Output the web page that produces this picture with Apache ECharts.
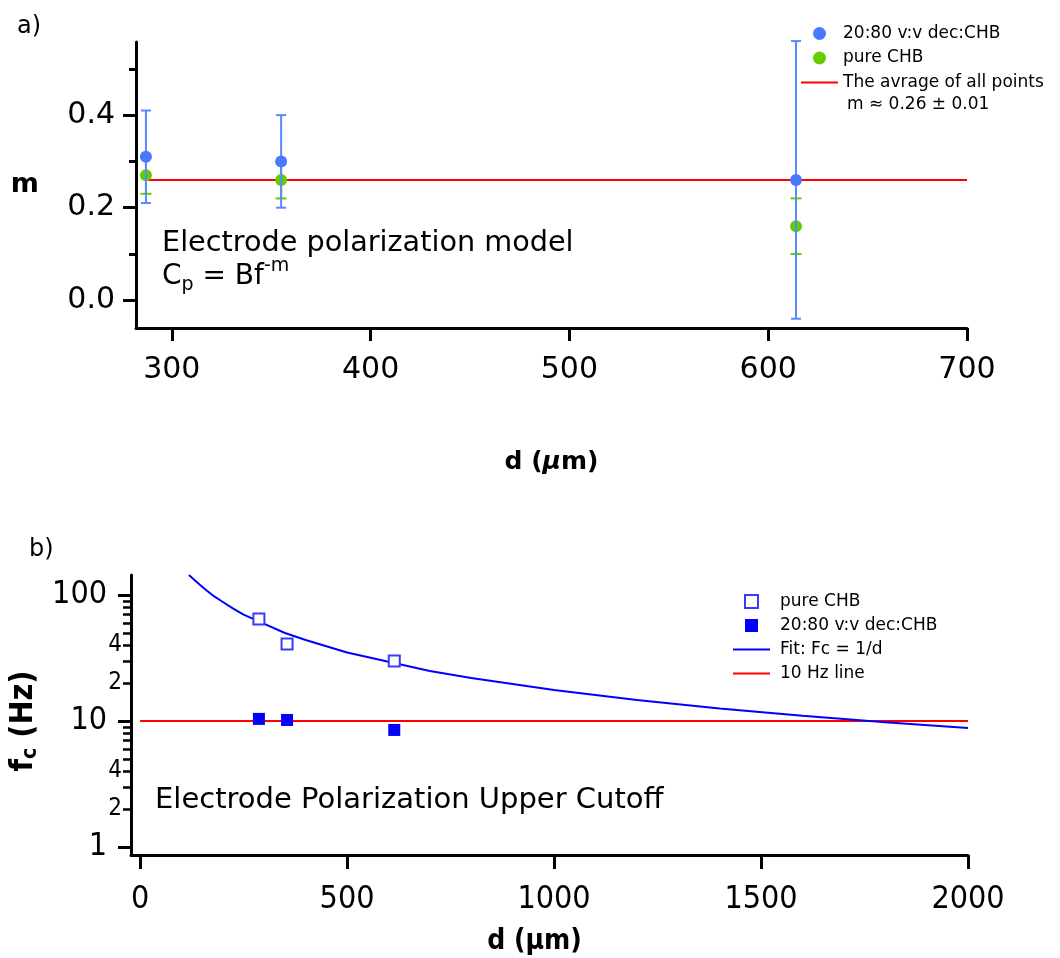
<!DOCTYPE html>
<html>
<head>
<meta charset="utf-8">
<script src="https://cdn.jsdelivr.net/npm/echarts@6/dist/echarts.min.js"></script>
<style>
  html, body { margin: 0; padding: 0; background: #fff; }
  #chart { width: 1060px; height: 958px; }
</style>
</head>
<body>
<div id="chart"></div>
<script>
// ---- panel a) exponent m vs thickness d ----
const dTicksTop = [300, 400, 500, 600, 700];
const mTickValues = [0, 0.2, 0.4];
const mMinorTicks = [0.1, 0.3, 0.5];
const dPoints = [287, 355, 614];
const mDec = [0.31, 0.30, 0.26];
const mDecErr = [0.10, 0.10, 0.30];
const mPure = [0.27, 0.26, 0.16];
const mPureErr = [0.04, 0.04, 0.06];
const avgLineD = [287, 700];
const avgLineM = [0.26, 0.26];

// ---- panel b) upper cutoff frequency vs d ----
const dTicksBottom = [0, 500, 1000, 1500, 2000];
const fcPure = [64.5, 40.8, 30];
const fcDec = [10.4, 10.2, 8.5];
const fitD = [118, 130, 145, 160, 180, 200, 225, 250, 300, 350, 400, 500, 600, 700, 800, 1000, 1200, 1400, 1600, 1800, 2000];
const fitFc = [144, 133, 120, 109, 97, 88, 78, 70, 59, 50, 44, 35, 29.5, 25, 22, 17.6, 14.7, 12.6, 11, 9.8, 8.8];
const tenHzD = [0, 2000];
const tenHzFc = [10, 10];
const fcMajorTicks = [1, 10, 100];
const fcMinorTicks = [2, 3, 4, 5, 6, 7, 8, 9, 20, 30, 40, 50, 60, 70, 80, 90];
const fcLabelValues = [1, 2, 4, 10, 20, 40, 100];
const fcLabelText = ['1', '2', '4', '10', '2', '4', '100'];

const FONT = 'DejaVu Sans';
const FONT_C = '"DejaVu Sans Condensed", "Liberation Sans Narrow", sans-serif';
const BLUE_DOT = '#4a78ff';
const BLUE_BAR = '#5a88ff';
const GREEN = '#66cc00';
const RED = '#ff0000';
const PURE_BLUE = '#0000ff';

const lg = v => Math.log10(v);
const zip = (xs, ys) => xs.map((x, i) => [x, ys[i]]);
const zipLog = (xs, ys) => xs.map((x, i) => [x, lg(ys[i])]);

function errorBars(name, ys, errs, color, cap, z) {
  return {
    type: 'custom',
    name: name,
    xAxisIndex: 0,
    yAxisIndex: 0,
    z: z,
    silent: true,
    data: dPoints.map((d, i) => [d, ys[i] - errs[i], ys[i] + errs[i]]),
    encode: { x: 0, y: [1, 2] },
    renderItem: function (params, api) {
      const lo = api.coord([api.value(0), api.value(1)]);
      const hi = api.coord([api.value(0), api.value(2)]);
      const style = { stroke: color, lineWidth: 2 };
      return {
        type: 'group',
        children: [
          { type: 'line', shape: { x1: lo[0], y1: lo[1], x2: hi[0], y2: hi[1] }, style: style },
          { type: 'line', shape: { x1: lo[0] - cap, y1: lo[1], x2: lo[0] + cap, y2: lo[1] }, style: style },
          { type: 'line', shape: { x1: hi[0] - cap, y1: hi[1], x2: hi[0] + cap, y2: hi[1] }, style: style }
        ]
      };
    }
  };
}

const blackLine = { color: '#000', width: 3 };
const squareIcon = 'path://M0 0H10V10H0Z';
const lineIcon = 'path://M0 0H37V2H0Z';

const chart = echarts.init(document.getElementById('chart'));

const option = {
  animation: false,
  backgroundColor: '#fff',
  grid: [
    { left: 136, top: 42, width: 831, height: 286, containLabel: false, outerBoundsMode: 'none' },
    { left: 131, top: 575, width: 837, height: 280, containLabel: false, outerBoundsMode: 'none' }
  ],
  xAxis: [
    {
      type: 'value', gridIndex: 0, min: 282, max: 700,
      axisLine: { onZero: false, lineStyle: blackLine },
      axisTick: { show: true, customValues: dTicksTop, length: 13, lineStyle: { color: '#000', width: 3 } },
      axisLabel: { customValues: dTicksTop, fontSize: 30, fontFamily: FONT, color: '#000', margin: 27, formatter: v => String(v) },
      splitLine: { show: false },
      name: '{b|d (}{i|μ}{b|m)}', nameLocation: 'middle', nameGap: 122,
      nameTextStyle: {
        rich: {
          b: { fontSize: 25, fontWeight: 'bold', fontFamily: FONT, color: '#000' },
          i: { fontSize: 25, fontWeight: 'bold', fontStyle: 'italic', fontFamily: FONT, color: '#000' }
        }
      }
    },
    {
      type: 'value', gridIndex: 1, min: -22, max: 2000,
      axisLine: { onZero: false, lineStyle: blackLine },
      axisTick: { show: true, customValues: dTicksBottom, length: 14, lineStyle: { color: '#000', width: 3 } },
      axisLabel: { customValues: dTicksBottom, fontSize: 32, fontFamily: FONT_C, color: '#000', margin: 29, formatter: v => String(v) },
      splitLine: { show: false },
      name: 'd (μm)', nameLocation: 'middle', nameGap: 73,
      nameTextStyle: { fontSize: 28, fontWeight: 'bold', fontFamily: FONT_C, color: '#000', padding: [0, 30, 0, 0] }
    }
  ],
  yAxis: [
    {
      type: 'value', gridIndex: 0, position: 'left', min: -0.06, max: 0.558,
      axisLine: { show: true, onZero: false, lineStyle: blackLine },
      axisTick: { show: true, customValues: mTickValues, length: 13, lineStyle: { color: '#000', width: 3 } },
      axisLabel: {
        customValues: mTickValues, fontSize: 30, fontFamily: FONT, color: '#000', margin: 21,
        formatter: v => v.toFixed(1)
      },
      splitLine: { show: false },
      name: 'm', nameLocation: 'middle', nameRotate: 0, nameGap: 97,
      nameTextStyle: { fontSize: 27, fontWeight: 'bold', fontFamily: FONT, color: '#000' }
    },
    {
      type: 'value', gridIndex: 0, position: 'left', offset: 0, min: -0.06, max: 0.558,
      axisLine: { show: false, onZero: false },
      axisTick: { show: true, customValues: mMinorTicks, length: 7, lineStyle: { color: '#000', width: 3 } },
      axisLabel: { show: false },
      splitLine: { show: false }
    },
    {
      type: 'value', gridIndex: 1, position: 'left', min: -0.063, max: 2.159,
      axisLine: { show: true, onZero: false, lineStyle: blackLine },
      axisTick: { show: true, customValues: fcMajorTicks.map(lg), length: 13, lineStyle: { color: '#000', width: 3 } },
      axisLabel: {
        customValues: fcLabelValues.map(lg), color: '#000', margin: 9,
        formatter: function (v) {
          const i = fcLabelValues.findIndex(t => Math.abs(lg(t) - v) < 1e-6);
          if (i < 0) return '';
          const txt = fcLabelText[i];
          return fcMajorTicks.indexOf(fcLabelValues[i]) >= 0 ? '{big|' + txt + '}' : '{small|' + txt + '}';
        },
        rich: {
          big: { fontSize: 32, fontFamily: FONT_C, color: '#000', padding: [0, 15, 0, 0] },
          small: { fontSize: 24, fontFamily: FONT_C, color: '#000' }
        }
      },
      splitLine: { show: false },
      name: '{f|f}{c|c}{f| (Hz)}', nameLocation: 'middle', nameRotate: 90, nameGap: 90,
      nameTextStyle: {
        padding: [0, 12, 0, 0],
        rich: {
          f: { fontSize: 32, fontWeight: 'bold', fontFamily: FONT_C, color: '#000' },
          c: { fontSize: 21, fontWeight: 'bold', fontFamily: FONT_C, color: '#000', padding: [13, 0, 0, 0] }
        }
      }
    },
    {
      type: 'value', gridIndex: 1, position: 'left', offset: 0, min: -0.063, max: 2.159,
      axisLine: { show: false, onZero: false },
      axisTick: { show: true, customValues: fcMinorTicks.map(lg), length: 8, lineStyle: { color: '#000', width: 2.5 } },
      axisLabel: { show: false },
      splitLine: { show: false }
    }
  ],
  legend: [
    {
      left: 801, top: 25, orient: 'vertical', padding: 0,
      itemWidth: 37, itemHeight: 13, itemGap: 7.5,
      selectedMode: false,
      data: [
        '20:80 v:v dec:CHB',
        'pure CHB',
        { name: 'The avrage of all points', icon: lineIcon }
      ],
      textStyle: { fontSize: 17, lineHeight: 16, fontFamily: FONT, color: '#000' }
    },
    {
      left: 733, top: 593, orient: 'vertical', padding: 0,
      itemWidth: 37, itemHeight: 13, itemGap: 7,
      selectedMode: false,
      data: [
        { name: 'pure CHB (b)', icon: squareIcon },
        { name: '20:80 v:v dec:CHB (b)', icon: squareIcon },
        { name: 'Fit: Fc = 1/d', icon: lineIcon },
        { name: '10 Hz line', icon: lineIcon }
      ],
      formatter: n => n.replace(' (b)', ''),
      textStyle: { fontSize: 17, lineHeight: 16, fontFamily: FONT, color: '#000', padding: [0, 0, 0, 5] }
    }
  ],
  graphic: {
    elements: [
      { type: 'text', x: 17, y: 27, style: { text: 'a)', fontSize: 24, fontFamily: FONT, fill: '#000', verticalAlign: 'middle' } },
      { type: 'text', x: 29, y: 550, style: { text: 'b)', fontSize: 24, fontFamily: FONT, fill: '#000', verticalAlign: 'middle' } },
      { type: 'text', x: 162, y: 244, style: { text: 'Electrode polarization model', fontSize: 28.7, fontFamily: FONT, fill: '#000', verticalAlign: 'middle' } },
      {
        type: 'text', x: 162, y: 277,
        style: {
          text: '{n|C}{s|p}{n| = Bf}{u|-m}',
          verticalAlign: 'middle',
          rich: {
            n: { fontSize: 28, fontFamily: FONT, fill: '#000' },
            s: { fontSize: 19, fontFamily: FONT, fill: '#000', padding: [16, 0, 0, 0] },
            u: { fontSize: 19, fontFamily: FONT, fill: '#000', padding: [0, 0, 22, 0] }
          }
        }
      },
      { type: 'text', x: 847, y: 105, style: { text: 'm ≈ 0.26 ± 0.01', fontSize: 17, fontFamily: FONT, fill: '#000', verticalAlign: 'middle' } },
      { type: 'text', x: 155, y: 800, style: { text: 'Electrode Polarization Upper Cutoff', fontSize: 29, fontFamily: FONT, fill: '#000', verticalAlign: 'middle' } }
    ]
  },
  series: [
    // panel a
    {
      name: 'The avrage of all points', type: 'line', xAxisIndex: 0, yAxisIndex: 0,
      data: zip(avgLineD, avgLineM), symbol: 'none', z: 2, silent: true,
      lineStyle: { color: RED, width: 2 }, itemStyle: { color: RED }
    },
    errorBars('pure CHB err', mPure, mPureErr, GREEN, 5.5, 3),
    {
      name: 'pure CHB', type: 'scatter', xAxisIndex: 0, yAxisIndex: 0,
      data: zip(dPoints, mPure), symbol: 'circle', symbolSize: 12, z: 4,
      itemStyle: { color: GREEN, opacity: 1 }
    },
    errorBars('dec err', mDec, mDecErr, BLUE_BAR, 5, 5),
    {
      name: '20:80 v:v dec:CHB', type: 'scatter', xAxisIndex: 0, yAxisIndex: 0,
      data: zip(dPoints, mDec), symbol: 'circle', symbolSize: 12, z: 6,
      itemStyle: { color: BLUE_DOT, opacity: 1 }
    },
    // panel b
    {
      name: '10 Hz line', type: 'line', xAxisIndex: 1, yAxisIndex: 2,
      data: zipLog(tenHzD, tenHzFc), symbol: 'none', z: 2, silent: true,
      lineStyle: { color: RED, width: 2 }, itemStyle: { color: RED }
    },
    {
      name: 'Fit: Fc = 1/d', type: 'line', xAxisIndex: 1, yAxisIndex: 2,
      data: zipLog(fitD, fitFc), symbol: 'none', smooth: false, z: 3, silent: true,
      lineStyle: { color: PURE_BLUE, width: 2 }, itemStyle: { color: PURE_BLUE }
    },
    {
      name: 'pure CHB (b)', type: 'scatter', xAxisIndex: 1, yAxisIndex: 2,
      data: zipLog(dPoints, fcPure), symbol: 'rect', symbolSize: 11, z: 4,
      itemStyle: { color: '#fff', borderColor: '#3a3aff', borderWidth: 2, opacity: 1 }
    },
    {
      name: '20:80 v:v dec:CHB (b)', type: 'scatter', xAxisIndex: 1, yAxisIndex: 2,
      data: zipLog(dPoints, fcDec), symbol: 'rect', symbolSize: 12, z: 4,
      itemStyle: { color: PURE_BLUE, opacity: 1 }
    }
  ]
};

chart.setOption(option);
</script>
</body>
</html>
